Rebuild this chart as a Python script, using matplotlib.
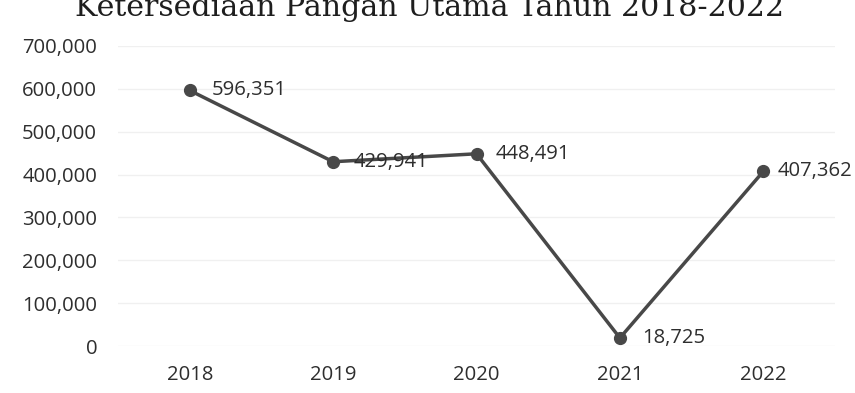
import matplotlib
matplotlib.use("Agg")
import matplotlib.pyplot as plt
from matplotlib.ticker import FuncFormatter

title = "Ketersediaan Pangan Utama Tahun 2018-2022"
years = ["2018", "2019", "2020", "2021", "2022"]
values = [596351, 429941, 448491, 18725, 407362]
y_ticks = [0, 100000, 200000, 300000, 400000, 500000, 600000, 700000]

W, H = 855, 393
fig = plt.figure(figsize=(W / 100, H / 100), dpi=100)
ax = fig.add_axes([118 / W, (H - 346) / H, (835 - 118) / W, (346 - 46) / H])

font = ["Open Sans", "DejaVu Sans"]
txt_color = "#2e2e2e"
line_color = "#484848"
fs = 14.6

x = list(range(len(years)))
ax.grid(axis="y", color="#f0f0f0", linewidth=1)
ax.set_axisbelow(True)
ax.plot(x, values, color=line_color, linewidth=2.5, marker="o", markersize=8.5,
        markerfacecolor=line_color, markeredgecolor=line_color, solid_capstyle="round")

label_dx = [16, 15, 14, 16, 10]
for xi, v, dx in zip(x, values, label_dx):
    ax.annotate(f"{v:,}", (xi, v), xytext=(dx, 0), textcoords="offset points",
                ha="left", va="center", fontsize=fs, family=font, color=txt_color)

ax.set_xlim(-0.5, len(years) - 0.5)
ax.set_ylim(0, 700000)
ax.set_yticks(y_ticks)
ax.yaxis.set_major_formatter(FuncFormatter(lambda v, p: f"{int(v):,}"))
ax.set_xticks(x)
ax.set_xticklabels(years)
for lab in ax.get_xticklabels() + ax.get_yticklabels():
    lab.set_family(font)
    lab.set_fontsize(fs)
    lab.set_color(txt_color)
ax.tick_params(axis="both", length=0)
ax.tick_params(axis="y", pad=15)
ax.tick_params(axis="x", pad=14)
for s in ax.spines.values():
    s.set_visible(False)

t = fig.text(430 / W, 1 - 16 / H, title, ha="center", va="baseline",
             family="DejaVu Serif", fontsize=20, color="#1e1e1e")
fig.canvas.draw()
r = fig.canvas.get_renderer()
w = t.get_window_extent(r).width
t.set_fontsize(20 * 710 / w)

fig.savefig("out.png", dpi=100)
